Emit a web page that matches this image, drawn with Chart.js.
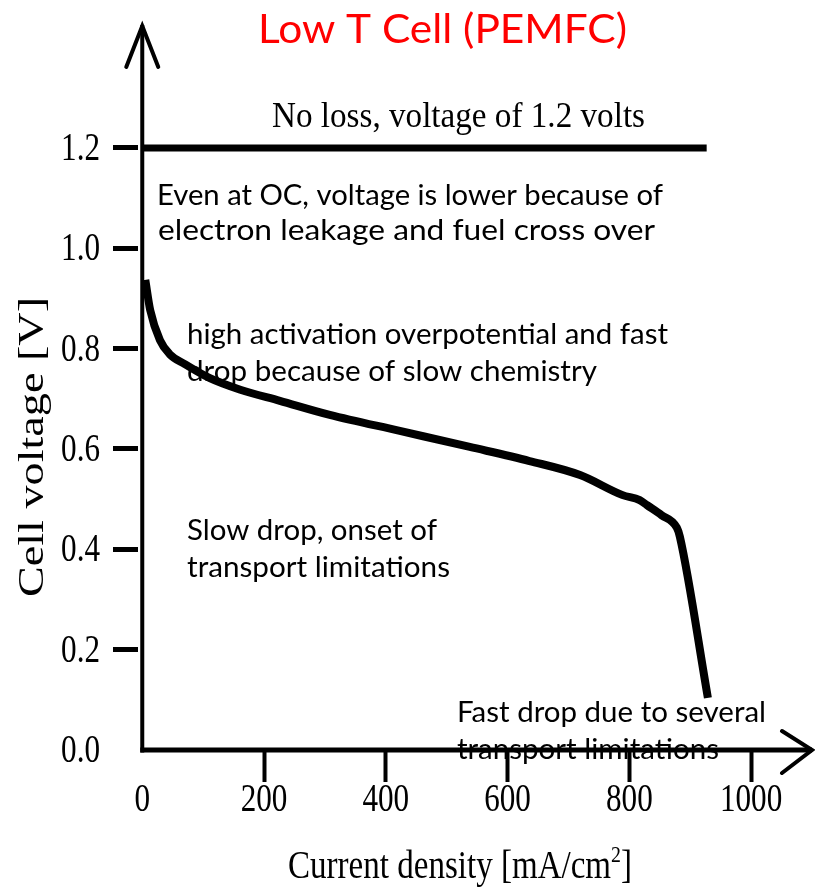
<!DOCTYPE html>
<html>
<head>
<meta charset="utf-8">
<script src="https://cdn.jsdelivr.net/npm/chart.js@4/dist/chart.umd.min.js"></script>
<style>
  html, body { margin: 0; padding: 0; background: #fff; }
  #wrap { width: 815px; height: 888px; position: relative; }
</style>
</head>
<body>
<div id="wrap"><canvas id="pemfc"></canvas></div>
<script>
'use strict';

// ── Data ──────────────────────────────────────────────────────────────────────
const current = [5, 13, 29, 45, 70, 111, 161, 226, 308, 423, 538, 636, 719, 789, 817, 829, 853, 878, 883, 929];
const voltage = [0.937, 0.877, 0.817, 0.789, 0.769, 0.741, 0.718, 0.696, 0.668, 0.636, 0.604, 0.576, 0.548, 0.508, 0.498, 0.488, 0.468, 0.443, 0.425, 0.104];

const idealCurrent = [0, 927];
const idealVoltage = [1.2, 1.2];

const xTickValues = [0, 200, 400, 600, 800, 1000];
const xTickLabels = ['0', '200', '400', '600', '800', '1000'];
const yTickValues = [0, 0.2, 0.4, 0.6, 0.8, 1.0, 1.2];
const yTickLabels = ['0.0', '0.2', '0.4', '0.6', '0.8', '1.0', '1.2'];

// ── Text placement (left, baseline, target width) ─────────────────────────────
const SANS  = 'Lato, "Open Sans", sans-serif';
const SERIF = '"Liberation Serif", "DejaVu Serif", serif';

const notes = [
  { t: 'Low T Cell (PEMFC)',                       x: 258, y: 43,  w: 369, font: `41px ${SANS}`,  color: '#ff0000' },
  { t: 'No loss, voltage of 1.2 volts',            x: 272, y: 127, w: 373, font: `35px ${SERIF}`, color: '#000' },
  { t: 'Even at OC, voltage is lower because of',  x: 157, y: 205, w: 506, font: `28px ${SANS}`,  color: '#000' },
  { t: 'electron leakage and fuel cross over',     x: 158, y: 240, w: 497, font: `28px ${SANS}`,  color: '#000' },
  { t: 'high activation overpotential and fast',   x: 187, y: 344, w: 481, font: `28px ${SANS}`,  color: '#000' },
  { t: 'drop because of slow chemistry',           x: 187, y: 381, w: 410, font: `28px ${SANS}`,  color: '#000' },
  { t: 'Slow drop, onset of',                      x: 187, y: 540, w: 250, font: `28px ${SANS}`,  color: '#000' },
  { t: 'transport limitations',                    x: 187, y: 577, w: 263, font: `28px ${SANS}`,  color: '#000' },
  { t: 'Fast drop due to several',                 x: 457, y: 722, w: 309, font: `28px ${SANS}`,  color: '#000' },
  { t: 'transport limitations',                    x: 457, y: 759, w: 262, font: `28px ${SANS}`,  color: '#000' },
];

const TICK_FONT = `41px ${SERIF}`;
const TICK_SX   = 0.76;

// ── Helpers ───────────────────────────────────────────────────────────────────
function squeezed(ctx, text, x, y, sx, align) {
  ctx.save();
  ctx.translate(x, y);
  ctx.scale(sx, 1);
  ctx.textAlign = align || 'left';
  ctx.fillText(text, 0, 0);
  ctx.restore();
}

function fitted(ctx, n) {
  ctx.font = n.font;
  ctx.fillStyle = n.color;
  const sx = n.w / ctx.measureText(n.t).width;
  squeezed(ctx, n.t, n.x, n.y, sx);
}

function line(ctx, pts, w) {
  ctx.beginPath();
  ctx.lineWidth = w;
  ctx.moveTo(pts[0][0], pts[0][1]);
  for (let i = 1; i < pts.length; i++) ctx.lineTo(pts[i][0], pts[i][1]);
  ctx.stroke();
}

// ── Overlay plugin: axes with arrows, tick labels, titles, notes ──────────────
const overlay = {
  id: 'overlay',
  afterDraw(chart) {
    const { ctx, chartArea, scales: { x, y } } = chart;
    const x0 = x.getPixelForValue(0);
    const y0 = y.getPixelForValue(0);

    ctx.save();
    ctx.strokeStyle = '#000';
    ctx.fillStyle = '#000';
    ctx.lineCap = 'butt';
    ctx.lineJoin = 'miter';

    // axis lines
    line(ctx, [[x0, y0 + 2.5], [x0, chartArea.top]], 4);
    line(ctx, [[x0 - 2, y0], [chartArea.right, y0]], 5);
    // arrow heads
    ctx.lineCap = 'round';
    line(ctx, [[x0 - 16, chartArea.top + 42], [x0, chartArea.top + 1], [x0 + 16, chartArea.top + 42]], 4);
    line(ctx, [[chartArea.right - 30, y0 - 19], [chartArea.right, y0], [chartArea.right - 30, y0 + 23]], 4);

    // tick labels
    ctx.font = TICK_FONT;
    xTickValues.forEach((v, i) => squeezed(ctx, xTickLabels[i], x.getPixelForValue(v), 811, TICK_SX, 'center'));
    yTickValues.forEach((v, i) => squeezed(ctx, yTickLabels[i], 100, y.getPixelForValue(v) + 12, TICK_SX, 'right'));

    // x title with superscript
    const a = 'Current density [mA/cm', b = '2', c = ']';
    ctx.font = `40px ${SERIF}`;
    const wa = ctx.measureText(a).width, wc = ctx.measureText(c).width;
    ctx.font = `24px ${SERIF}`;
    const wb = ctx.measureText(b).width;
    const sx = 344 / (wa + wb + wc);
    let cx = 288;
    ctx.font = `40px ${SERIF}`;
    squeezed(ctx, a, cx, 878, sx); cx += wa * sx;
    ctx.font = `24px ${SERIF}`;
    squeezed(ctx, b, cx, 862, sx); cx += wb * sx;
    ctx.font = `40px ${SERIF}`;
    squeezed(ctx, c, cx, 878, sx);

    // y title, rotated
    ctx.font = `35px ${SERIF}`;
    const yt = 'Cell voltage [V]';
    ctx.save();
    ctx.translate(43, 447);
    ctx.rotate(-Math.PI / 2);
    squeezed(ctx, yt, 0, 0, 300 / ctx.measureText(yt).width, 'center');
    ctx.restore();

    notes.forEach(n => fitted(ctx, n));
    ctx.restore();
  }
};

// ── Chart ─────────────────────────────────────────────────────────────────────
const hideZero = c => (c.tick && c.tick.value === 0 ? 'rgba(0,0,0,0)' : '#000');

new Chart(document.getElementById('pemfc'), {
  type: 'line',
  data: {
    datasets: [
      {
        data: idealCurrent.map((v, i) => ({ x: v, y: idealVoltage[i] })),
        borderColor: '#000',
        borderWidth: 7,
        borderCapStyle: 'butt',
        pointRadius: 0,
      },
      {
        data: current.map((v, i) => ({ x: v, y: voltage[i] })),
        borderColor: '#000',
        borderWidth: 8,
        borderCapStyle: 'butt',
        borderJoinStyle: 'round',
        cubicInterpolationMode: 'monotone',
        pointRadius: 0,
      },
    ]
  },
  options: {
    responsive: true,
    maintainAspectRatio: false,
    animation: false,
    layout: { padding: { left: 113, right: 3, top: 25, bottom: 106 } },
    plugins: { legend: { display: false }, tooltip: { enabled: false } },
    scales: {
      x: {
        type: 'linear',
        min: -7,
        max: 1100,
        border: { display: false },
        grid: { drawOnChartArea: false, drawTicks: true, tickLength: 32, tickWidth: 4, tickColor: hideZero },
        ticks: { display: false },
        afterBuildTicks: s => { s.ticks = xTickValues.map(v => ({ value: v })); },
        afterFit: s => { s.height = 32; },
      },
      y: {
        type: 'linear',
        min: 0,
        max: 1.445,
        border: { display: false },
        grid: { drawOnChartArea: false, drawTicks: true, tickLength: 25, tickWidth: 5, tickColor: hideZero },
        ticks: { display: false },
        afterBuildTicks: s => { s.ticks = yTickValues.map(v => ({ value: v })); },
        afterFit: s => { s.width = 25; },
      }
    }
  },
  plugins: [overlay]
});
</script>
</body>
</html>
